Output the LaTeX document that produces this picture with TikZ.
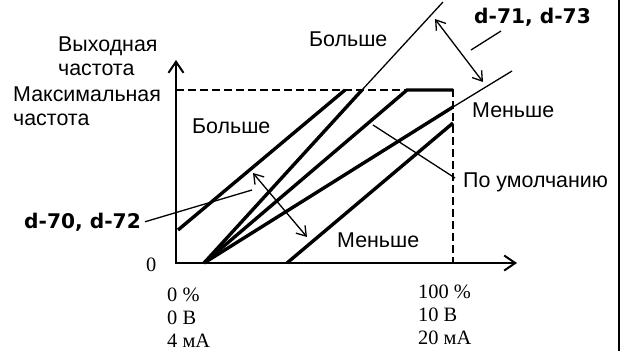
\documentclass[tikz,border=0pt]{standalone}
\usepackage{fontspec}
\setmainfont{Liberation Sans}
\newfontfamily\numfont{Liberation Serif}
\newfontfamily\parfont{DejaVu Sans}
\usetikzlibrary{arrows.meta}

\tikzset{
    txt/.style={inner sep=0pt, anchor=base west, font=\fontsize{21.4bp}{25bp}\selectfont},
    num/.style={inner sep=0pt, anchor=base west, font=\numfont\fontsize{20.4bp}{23bp}\selectfont},
    par/.style={inner sep=0pt, anchor=base west, font=\parfont\bfseries\fontsize{20.2bp}{23bp}\selectfont},
    axis/.style={line width=2bp, {Straight Barb[length=11bp,width=15bp]}-{Straight Barb[length=11bp,width=15bp]}},
    curve/.style={line width=3.4bp},
    thin/.style={line width=1.3bp},
    limit/.style={line width=1.3bp, dash pattern=on 8bp off 4bp},
    dbl/.style={line width=1.3bp, {Straight Barb[length=9bp,width=12bp]}-{Straight Barb[length=9bp,width=12bp]}}
}

\begin{document}
\begin{tikzpicture}[x=1bp, y=-1bp]

    \useasboundingbox (0,0) rectangle (621,351);

    % Axes
    \coordinate (O) at (176,263);
    \coordinate (ytip) at (176,60);
    \coordinate (xtip) at (517,263);
    \draw[axis] (ytip) -- (O) -- (xtip);

    % Maximum frequency limit
    \coordinate (maxL) at (176,90);
    \coordinate (maxR) at (453,90);
    \coordinate (maxB) at (453,263);
    \draw[limit] (maxL) -- (maxR) -- (maxB);

    % Characteristic lines
    \coordinate (z) at (204,263);
    \coordinate (b1s) at (178,230);  \coordinate (b1e) at (345,90);
    \coordinate (s1) at (362,90);    \coordinate (s2) at (443,2);
    \coordinate (d1) at (407,90);
    \coordinate (g1) at (453,107);   \coordinate (g2) at (512,71);
    \coordinate (b2s) at (287,263);  \coordinate (b2e) at (453,123);
    \draw[curve] (b1s) -- (b1e);
    \draw[curve] (z) -- (s1);
    \draw[thin] (s1) -- (s2);
    \draw[curve] (z) -- (d1) -- (maxR);
    \draw[curve] (z) -- (g1);
    \draw[thin] (g1) -- (g2);
    \draw[curve] (b2s) -- (b2e);

    % Adjustment arrows
    \coordinate (a1) at (253,173);  \coordinate (a2) at (307,237);
    \coordinate (a3) at (435,19);   \coordinate (a4) at (483,82);
    \draw[dbl] (a1) -- (a2);
    \draw[dbl] (a3) -- (a4);

    % Labels
    \node[txt] (yname) at (58,51) {Выходная};
    \node[txt] (yname2) at (58,75) {частота};
    \node[txt] (fmax) at (13,101) {Максимальная};
    \node[txt] (fmax2) at (13,125) {частота};
    \node[txt] (more1) at (192,133) {Больше};
    \node[txt] (more2) at (309,46) {Больше};
    \node[txt] (less1) at (472,117) {Меньше};
    \node[txt] (less2) at (337,247) {Меньше};
    \node[txt] (deflt) at (463,187) {По умолчанию};
    \node[par] (p71) at (474,23) {d-71, d-73};
    \node[par] (p70) at (24,228) {d-70, d-72};

    \node[num] (zero) at (146,271) {0};
    \node[num] (lo1) at (167,301) {0 \%};
    \node[num] (lo2) at (167,324) {0 В};
    \node[num] (lo3) at (167,347) {4 мА};
    \node[num] (hi1) at (418,298) {100 \%};
    \node[num] (hi2) at (418,321) {10 В};
    \node[num] (hi3) at (418,344) {20 мА};

    % Leader lines
    \coordinate (l70) at (252,190);
    \coordinate (l71a) at (471,50);  \coordinate (l71b) at (501,31);
    \coordinate (ldef) at (373,125); \coordinate (ldefe) at (455,178);
    \draw[thin] ([xshift=4bp]p70.east) -- (l70);
    \draw[thin] (l71a) -- (l71b);
    \draw[thin] (ldef) -- (ldefe);

    % Frame edge
    \coordinate (fr1) at (619,0);
    \coordinate (fr2) at (619,351);
    \draw[line width=1.5bp] (fr1) -- (fr2);

\end{tikzpicture}
\end{document}
